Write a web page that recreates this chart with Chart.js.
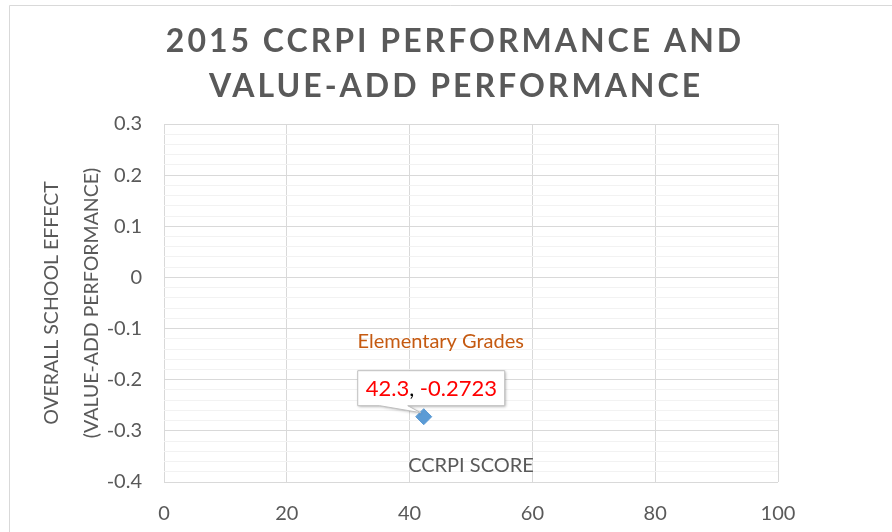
<!DOCTYPE html>
<html>
<head>
<meta charset="utf-8">
<script src="https://cdn.jsdelivr.net/npm/chart.js@4"></script>
<style>
  html, body { margin: 0; padding: 0; background: #fff; }
  #wrap { width: 892px; height: 532px; }
</style>
</head>
<body>
<div id="wrap"><canvas id="ccrpiChart" width="892" height="532"></canvas></div>
<script>
// data
const titleLines = ['2015 CCRPI PERFORMANCE AND', 'VALUE-ADD PERFORMANCE'];
const seriesName = 'Elementary Grades';
const ccrpiScores = [42.3];
const schoolEffects = [-0.2723];
const xRange = [0, 100, 20];        // min, max, step
const yRange = [-0.4, 0.3, 0.02];   // min, max, minor step
const xAxisTitle = 'CCRPI SCORE';
const yAxisTitle = ['OVERALL SCHOOL EFFECT', '(VALUE-ADD PERFORMANCE)'];

const grey = '#595959';
const font = 'Lato, "Open Sans", sans-serif';

const isMajor = v => Math.abs(v * 10 - Math.round(v * 10)) < 1e-6;

const decorPlugin = {
  id: 'decor',
  beforeDraw(chart) {
    const c = chart.ctx;
    c.save();
    c.fillStyle = '#fff';
    c.fillRect(0, 0, chart.width, chart.height);
    // outer frame
    c.strokeStyle = '#D9D9D9';
    c.lineWidth = 1;
    c.beginPath();
    c.moveTo(9.5, chart.height);
    c.lineTo(9.5, 5.5);
    c.lineTo(chart.width, 5.5);
    c.stroke();
    // title
    c.fillStyle = grey;
    c.font = 'bold 32px ' + font;
    c.letterSpacing = '3px';
    c.textAlign = 'center';
    c.textBaseline = 'middle';
    c.fillText(titleLines[0], 455, 42);
    c.fillText(titleLines[1], 456, 87);
    c.restore();
  },
  afterDatasetsDraw(chart) {
    const c = chart.ctx;
    const area = chart.chartArea;
    const pt = chart.getDatasetMeta(0).data[0];
    const px = pt.x, py = pt.y;
    c.save();
    // x axis title sits inside the plot, as in the original
    c.fillStyle = grey;
    c.font = '20px ' + font;
    c.textAlign = 'center';
    c.textBaseline = 'middle';
    c.fillText(xAxisTitle, (area.left + area.right) / 2, area.bottom - 16);

    // series name label
    c.fillStyle = '#C55A11';
    c.fillText(seriesName, px + 17, py - 75);

    // callout with value
    const L = px - 66, R = px + 81, T = py - 46, B = py - 11;
    c.beginPath();
    c.moveTo(L, T);
    c.lineTo(R, T);
    c.lineTo(R, B);
    c.lineTo(px - 16, B);
    c.lineTo(px - 3, py - 4);
    c.lineTo(px - 44, B);
    c.lineTo(L, B);
    c.closePath();
    c.shadowColor = 'rgba(0,0,0,0.3)';
    c.shadowBlur = 3;
    c.shadowOffsetX = 1;
    c.shadowOffsetY = 1;
    c.fillStyle = '#fff';
    c.fill();
    c.shadowColor = 'transparent';
    c.strokeStyle = '#BFBFBF';
    c.lineWidth = 1;
    c.stroke();

    c.font = '22px ' + font;
    c.textAlign = 'left';
    let x = px - 58;
    const y = py - 28;
    const parts = [
      [ccrpiScores[0].toFixed(1), '#FF0000'],
      [', ', '#000000'],
      [schoolEffects[0].toFixed(4), '#FF0000']
    ];
    for (const [txt, col] of parts) {
      c.fillStyle = col;
      c.fillText(txt, x, y);
      x += c.measureText(txt).width;
    }
    c.restore();
  }
};

const ctx = document.getElementById('ccrpiChart').getContext('2d');
const ccrpiChart = new Chart(ctx, {
  type: 'scatter',
  data: {
    datasets: [{
      label: seriesName,
      data: ccrpiScores.map((s, i) => ({ x: s, y: schoolEffects[i] })),
      pointStyle: 'rectRot',
      pointRadius: 8,
      pointHoverRadius: 8,
      backgroundColor: '#5B9BD5',
      borderColor: '#5B9BD5',
      borderWidth: 1
    }]
  },
  options: {
    responsive: false,
    animation: false,
    devicePixelRatio: 1,
    layout: { padding: { top: 124, left: 0, right: 114, bottom: 0 } },
    plugins: {
      legend: { display: false },
      tooltip: { enabled: false }
    },
    scales: {
      x: {
        type: 'linear',
        min: xRange[0],
        max: xRange[1],
        ticks: {
          stepSize: xRange[2],
          color: grey,
          font: { family: font, size: 20 },
          padding: 20
        },
        grid: { color: '#D9D9D9', drawTicks: false, lineWidth: 1 },
        border: { display: false },
        afterFit(scale) { scale.height = 50; }
      },
      y: {
        type: 'linear',
        min: yRange[0],
        max: yRange[1],
        ticks: {
          stepSize: yRange[2],
          autoSkip: false,
          color: grey,
          font: { family: font, size: 20 },
          padding: 22,
          callback: v => isMajor(v) ? (Math.abs(v) < 1e-9 ? '0' : String(Math.round(v * 10) / 10)) : ''
        },
        grid: {
          drawTicks: false,
          color: c => isMajor(c.tick.value) ? '#D9D9D9' : '#F2F2F2'
        },
        border: { display: false },
        title: {
          display: true,
          text: yAxisTitle,
          color: grey,
          font: { family: font, size: 19.5, lineHeight: '40px' },
          padding: { top: 32, bottom: 0 }
        },
        afterFit(scale) { scale.width = 164; }
      }
    }
  },
  plugins: [decorPlugin]
});
</script>
</body>
</html>
